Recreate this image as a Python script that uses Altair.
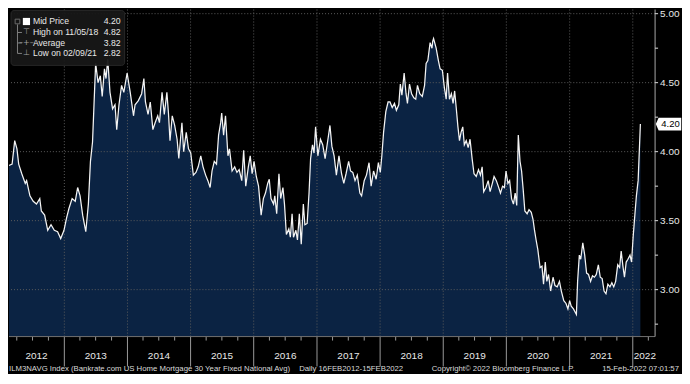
import altair as alt
import pandas as pd

# ---------------- data ----------------
# dates as decimal years, rate in percent
date_dec = [
    2012.126, 2012.177, 2012.218, 2012.254, 2012.280, 2012.330, 2012.383, 2012.407, 2012.459, 2012.510,
    2012.561, 2012.613, 2012.638, 2012.690, 2012.740, 2012.791, 2012.843, 2012.894, 2012.945, 2012.997,
    2013.037, 2013.074, 2013.125, 2013.175, 2013.212, 2013.252, 2013.293, 2013.340, 2013.381, 2013.416,
    2013.447, 2013.467, 2013.498, 2013.535, 2013.570, 2013.601, 2013.636, 2013.662, 2013.688, 2013.724,
    2013.765, 2013.805, 2013.831, 2013.866, 2013.908, 2013.943, 2013.995, 2014.046, 2014.097, 2014.123,
    2014.174, 2014.226, 2014.261, 2014.287, 2014.327, 2014.364, 2014.404, 2014.441, 2014.481, 2014.507,
    2014.548, 2014.584, 2014.625, 2014.650, 2014.676, 2014.711, 2014.748, 2014.788, 2014.814, 2014.865,
    2014.891, 2014.932, 2014.968, 2015.003, 2015.045, 2015.086, 2015.121, 2015.163, 2015.198, 2015.240,
    2015.275, 2015.310, 2015.341, 2015.378, 2015.413, 2015.444, 2015.479, 2015.495, 2015.525, 2015.556,
    2015.593, 2015.618, 2015.659, 2015.701, 2015.736, 2015.771, 2015.813, 2015.843, 2015.874, 2015.916,
    2015.946, 2015.977, 2016.008, 2016.043, 2016.078, 2016.120, 2016.155, 2016.186, 2016.223, 2016.247,
    2016.274, 2016.315, 2016.335, 2016.366, 2016.401, 2016.427, 2016.462, 2016.489, 2016.519, 2016.555,
    2016.581, 2016.607, 2016.631, 2016.668, 2016.693, 2016.724, 2016.754, 2016.785, 2016.811, 2016.846,
    2016.877, 2016.899, 2016.929, 2016.954, 2016.980, 2017.015, 2017.057, 2017.092, 2017.129, 2017.169,
    2017.206, 2017.237, 2017.272, 2017.307, 2017.349, 2017.390, 2017.426, 2017.461, 2017.502, 2017.533,
    2017.568, 2017.605, 2017.641, 2017.682, 2017.707, 2017.748, 2017.784, 2017.825, 2017.860, 2017.897,
    2017.937, 2017.974, 2018.005, 2018.029, 2018.055, 2018.091, 2018.128, 2018.158, 2018.194, 2018.229,
    2018.260, 2018.297, 2018.321, 2018.347, 2018.383, 2018.413, 2018.435, 2018.466, 2018.501, 2018.536,
    2018.567, 2018.593, 2018.628, 2018.670, 2018.705, 2018.731, 2018.757, 2018.793, 2018.823, 2018.835,
    2018.847, 2018.890, 2018.926, 2018.951, 2018.988, 2019.019, 2019.049, 2019.069, 2019.100, 2019.131,
    2019.157, 2019.181, 2019.207, 2019.234, 2019.258, 2019.284, 2019.310, 2019.335, 2019.366, 2019.396,
    2019.427, 2019.458, 2019.489, 2019.525, 2019.561, 2019.591, 2019.618, 2019.642, 2019.679, 2019.714,
    2019.745, 2019.780, 2019.807, 2019.842, 2019.873, 2019.909, 2019.940, 2019.971, 2019.995, 2020.026,
    2020.052, 2020.083, 2020.114, 2020.140, 2020.164, 2020.191, 2020.217, 2020.241, 2020.267, 2020.293,
    2020.329, 2020.360, 2020.395, 2020.421, 2020.447, 2020.472, 2020.498, 2020.533, 2020.564, 2020.590,
    2020.616, 2020.641, 2020.667, 2020.702, 2020.739, 2020.770, 2020.805, 2020.840, 2020.871, 2020.908,
    2020.943, 2020.974, 2021.000, 2021.025, 2021.062, 2021.107, 2021.128, 2021.154, 2021.178, 2021.209,
    2021.240, 2021.270, 2021.301, 2021.332, 2021.363, 2021.393, 2021.424, 2021.455, 2021.486, 2021.516,
    2021.547, 2021.578, 2021.608, 2021.639, 2021.670, 2021.701, 2021.731, 2021.762, 2021.793, 2021.819,
    2021.845, 2021.870, 2021.896, 2021.926, 2021.957, 2021.983, 2022.008, 2022.034, 2022.060, 2022.085,
    2022.123,
]
rate = [
    3.90, 3.91, 4.08, 4.02, 3.91, 3.84, 3.77, 3.79, 3.68, 3.64,
    3.62, 3.66, 3.57, 3.54, 3.43, 3.47, 3.43, 3.42, 3.37, 3.43,
    3.52, 3.59, 3.66, 3.64, 3.74, 3.68, 3.54, 3.42, 3.62, 3.93,
    4.07, 4.29, 4.64, 4.50, 4.55, 4.40, 4.60, 4.53, 4.67, 4.43,
    4.31, 4.34, 4.16, 4.34, 4.48, 4.43, 4.57, 4.43, 4.26, 4.34,
    4.37, 4.42, 4.53, 4.36, 4.27, 4.36, 4.16, 4.21, 4.26, 4.21,
    4.43, 4.27, 4.43, 4.28, 4.08, 4.26, 4.19, 4.09, 3.95, 4.21,
    4.00, 4.14, 4.02, 3.99, 3.83, 3.85, 3.89, 3.97, 3.89, 3.83,
    3.79, 3.74, 3.86, 3.93, 3.91, 4.12, 4.21, 4.28, 4.12, 4.26,
    3.97, 4.02, 3.86, 3.89, 3.85, 3.87, 3.79, 4.01, 3.75, 3.89,
    3.97, 3.84, 3.93, 3.82, 3.75, 3.54, 3.66, 3.70, 3.77, 3.80,
    3.66, 3.62, 3.68, 3.55, 3.84, 3.66, 3.74, 3.62, 3.40, 3.44,
    3.38, 3.55, 3.38, 3.43, 3.36, 3.55, 3.33, 3.62, 3.47, 3.48,
    3.70, 3.95, 4.05, 3.99, 4.18, 3.97, 4.09, 4.05, 3.95, 4.07,
    4.19, 4.04, 3.97, 3.83, 3.97, 3.84, 3.77, 3.84, 3.93, 3.86,
    3.85, 3.79, 3.83, 3.70, 3.68, 3.79, 3.83, 3.92, 3.75, 3.86,
    3.80, 3.92, 3.85, 3.97, 4.14, 4.29, 4.36, 4.36, 4.32, 4.35,
    4.30, 4.34, 4.49, 4.41, 4.57, 4.42, 4.35, 4.49, 4.42, 4.39,
    4.38, 4.48, 4.42, 4.40, 4.48, 4.64, 4.66, 4.79, 4.75, 4.80,
    4.82, 4.75, 4.66, 4.60, 4.59, 4.47, 4.38, 4.57, 4.38, 4.42,
    4.35, 4.44, 4.32, 4.18, 4.08, 4.14, 4.18, 4.05, 4.08, 4.03,
    4.09, 3.95, 3.84, 3.82, 3.87, 3.83, 3.89, 3.71, 3.74, 3.79,
    3.71, 3.77, 3.82, 3.79, 3.75, 3.70, 3.75, 3.74, 3.86, 3.77,
    3.79, 3.66, 3.62, 3.70, 3.61, 4.12, 3.93, 3.86, 3.73, 3.57,
    3.55, 3.58, 3.56, 3.51, 3.43, 3.36, 3.29, 3.16, 3.17, 3.04,
    3.20, 3.06, 3.11, 2.99, 3.09, 3.03, 3.02, 3.06, 2.99, 2.92,
    2.90, 2.86, 2.92, 2.88, 2.86, 2.82, 3.06, 3.25, 3.22, 3.34,
    3.25, 3.12, 3.11, 3.06, 3.10, 3.09, 3.11, 3.18, 3.09, 3.08,
    2.99, 2.97, 3.04, 3.02, 3.05, 3.02, 3.06, 3.18, 3.16, 3.28,
    3.17, 3.09, 3.20, 3.22, 3.25, 3.20, 3.38, 3.54, 3.68, 3.79,
    4.20,
]

grid_levels = [3.0, 3.5, 4.0, 4.5, 5.0]
tick_levels = [2.75, 3.0, 3.25, 3.5, 3.75, 4.0, 4.25, 4.5, 4.75, 5.0]
boundary_years = list(range(2013, 2023))
label_years = list(range(2012, 2023))
label_dates = ["2012-07-24", "2013-07-02", "2014-07-02", "2015-07-02", "2016-07-02", "2017-07-02",
               "2018-07-02", "2019-07-02", "2020-07-02", "2021-07-02", "2022-03-12"]

legend_labels = ["Mid Price", "High on 11/05/18", "Average", "Low on 02/09/21"]
legend_values = ["4.20", "4.82", "3.82", "2.82"]
last_price = 4.20

footer_parts = [
    "ILM3NAVG Index (Bankrate.com US Home Mortgage 30 Year Fixed National Avg)",
    "Daily 16FEB2012-15FEB2022",
    "Copyright\u00a9 2022 Bloomberg Finance L.P.",
    "15-Feb-2022 07:01:57",
]

# ---------------- build ----------------
def dec_to_ts(d):
    y = int(d)
    s = pd.Timestamp(year=y, month=1, day=1)
    e = pd.Timestamp(year=y + 1, month=1, day=1)
    return (s + (e - s) * (d - y)).normalize()

df = pd.DataFrame({"date": [dec_to_ts(d) for d in date_dec], "rate": rate})
bounds_df = pd.DataFrame({"date": [pd.Timestamp(year=y, month=1, day=1) for y in boundary_years]})
quarters = [pd.Timestamp(year=y, month=m, day=1) for y in range(2012, 2023) for m in (4, 7, 10)]
quarters = [q for q in quarters if q <= pd.Timestamp("2022-04-01")]
quarter_df = pd.DataFrame({"date": quarters})
grid_df = pd.DataFrame({"level": grid_levels, "lbl": [f"{v:.2f}" for v in grid_levels]})
tick_df = pd.DataFrame({"level": tick_levels})
year_df = pd.DataFrame({"date": pd.to_datetime(label_dates), "lbl": [str(y) for y in label_years]})

W, H = 648, 328
FONT = "Liberation Sans"
NAVY = "#0b2343"
GRID = "#5c5c5c"
TXT = "#e8e8e8"
AXC = "#a8a8a8"

xscale = alt.Scale(domain=[alt.DateTime(year=2012, month=2, date=16),
                           alt.DateTime(year=2022, month=5, date=10)])
yscale = alt.Scale(domain=[2.66, 5.03], nice=False, zero=False)

X = lambda: alt.X("date:T", scale=xscale, axis=None)

area = alt.Chart(df).mark_area(color=NAVY, clip=True).encode(
    x=X(), y=alt.Y("rate:Q", scale=yscale, axis=None), y2=alt.datum(2.66),
)
hgrid = alt.Chart(grid_df).mark_rule(color=GRID, strokeDash=[1, 2], strokeWidth=1).encode(
    y=alt.Y("level:Q", scale=yscale, axis=None)
)
vgrid = alt.Chart(bounds_df).mark_rule(color=GRID, strokeDash=[1, 2], strokeWidth=1).encode(x=X())
separators = alt.Chart(bounds_df).mark_rule(color="#9a9a9a", strokeWidth=1).encode(
    x=X(), y=alt.value(H), y2=alt.value(H + 30)
)
qticks = alt.Chart(quarter_df).mark_rule(color="#9a9a9a", strokeWidth=1).encode(
    x=X(), y=alt.value(H), y2=alt.value(H + 4)
)
line = alt.Chart(df).mark_line(color="#f4f4f4", strokeWidth=1.25, clip=True).encode(
    x=X(), y=alt.Y("rate:Q", scale=yscale, axis=None),
)

# axes drawn from the scales
one = pd.DataFrame({"k": [0]})
x_domain = alt.Chart(one).mark_rule(color="#707070").encode(
    x=alt.value(0), x2=alt.value(W), y=alt.value(H), y2=alt.value(H))
y_domain = alt.Chart(one).mark_rule(color=AXC).encode(
    x=alt.value(W), x2=alt.value(W), y=alt.value(0), y2=alt.value(H))
y_ticks = alt.Chart(tick_df).mark_rule(color="#dddddd").encode(
    y=alt.Y("level:Q", scale=yscale, axis=None), x=alt.value(W), x2=alt.value(W + 3))
y_labels = alt.Chart(grid_df).mark_text(color=TXT, fontSize=10, font=FONT, align="left",
                                        baseline="middle").encode(
    y=alt.Y("level:Q", scale=yscale, axis=None), x=alt.value(W + 5), text="lbl:N")
year_labels = alt.Chart(year_df).mark_text(color=TXT, fontSize=10, font=FONT, align="center",
                                           baseline="middle").encode(
    x=X(), y=alt.value(H + 19), text="lbl:N")

price_df = pd.DataFrame({"rate": [last_price], "lbl": [f"{last_price:.2f}"]})
tag = alt.Chart(price_df).mark_point(
    shape="M-1,0 L-0.78,-0.5 L1,-0.5 L1,0.5 L-0.78,0.5 Z",
    filled=True, fill="#ffffff", size=650, opacity=1, strokeWidth=0,
).encode(y=alt.Y("rate:Q", scale=yscale, axis=None), x=alt.value(W + 13.5))
tag_text = alt.Chart(price_df).mark_text(
    color="#000000", fontSize=9.5, font=FONT, align="center", baseline="middle"
).encode(y=alt.Y("rate:Q", scale=yscale, axis=None), x=alt.value(W + 15.5), text="lbl:N")

legend_box = alt.Chart(one).mark_rect(
    fill="#181818", stroke="#2a2a2a", cornerRadius=3, opacity=0.95
).encode(x=alt.value(2), x2=alt.value(116), y=alt.value(1), y2=alt.value(56))

layers = [area, hgrid, vgrid, separators, qticks, line, x_domain, y_domain, y_ticks,
          y_labels, year_labels, tag, tag_text, legend_box]

row_y = [12, 23, 33.5, 44]
layers.append(alt.Chart(one).mark_rule(color="#808080").encode(
    x=alt.value(8.5), x2=alt.value(8.5), y=alt.value(15), y2=alt.value(row_y[3])))
for ry in row_y[1:]:
    layers.append(alt.Chart(one).mark_rule(color="#808080").encode(
        x=alt.value(8.5), x2=alt.value(13), y=alt.value(ry), y2=alt.value(ry)))
layers.append(alt.Chart(one).mark_point(shape="square", filled=False, color="#909090", size=22,
                                        strokeWidth=1).encode(x=alt.value(8.5), y=alt.value(row_y[0])))
layers.append(alt.Chart(one).mark_point(shape="square", filled=True, color="#ffffff", size=52,
                                        opacity=1).encode(x=alt.value(17.5), y=alt.value(row_y[0])))
icons = ["\u22a4", "\u2013+\u2013", "\u22a5"]
for ry, ic in zip(row_y[1:], icons):
    layers.append(alt.Chart(one).mark_text(text=ic, color="#a0a0a0", fontSize=8, font="DejaVu Sans",
                                           align="center", baseline="middle").encode(
        x=alt.value(17.5), y=alt.value(ry)))
for ry, lab, val in zip(row_y, legend_labels, legend_values):
    layers.append(alt.Chart(one).mark_text(text=lab, color=TXT, fontSize=8.7, font=FONT,
                                           align="left", baseline="middle").encode(
        x=alt.value(24), y=alt.value(ry)))
    layers.append(alt.Chart(one).mark_text(text=val, color=TXT, fontSize=8.7, font=FONT,
                                           align="right", baseline="middle").encode(
        x=alt.value(112), y=alt.value(ry)))

footer_x = [0, 291, 424, 672]
footer_align = ["left", "left", "left", "right"]
for fx, fa, ft in zip(footer_x, footer_align, footer_parts):
    layers.append(alt.Chart(one).mark_text(text=ft, color="#dadada", fontSize=7.8, font=FONT,
                                           align=fa, baseline="middle").encode(
        x=alt.value(fx), y=alt.value(H + 33)))

chart = alt.layer(*layers).properties(
    width=W, height=H, background="#000000", padding=0
).configure_view(stroke=None).configure_text(font=FONT)

chart.save("out.html", embed_options={"renderer": "svg", "actions": False})
